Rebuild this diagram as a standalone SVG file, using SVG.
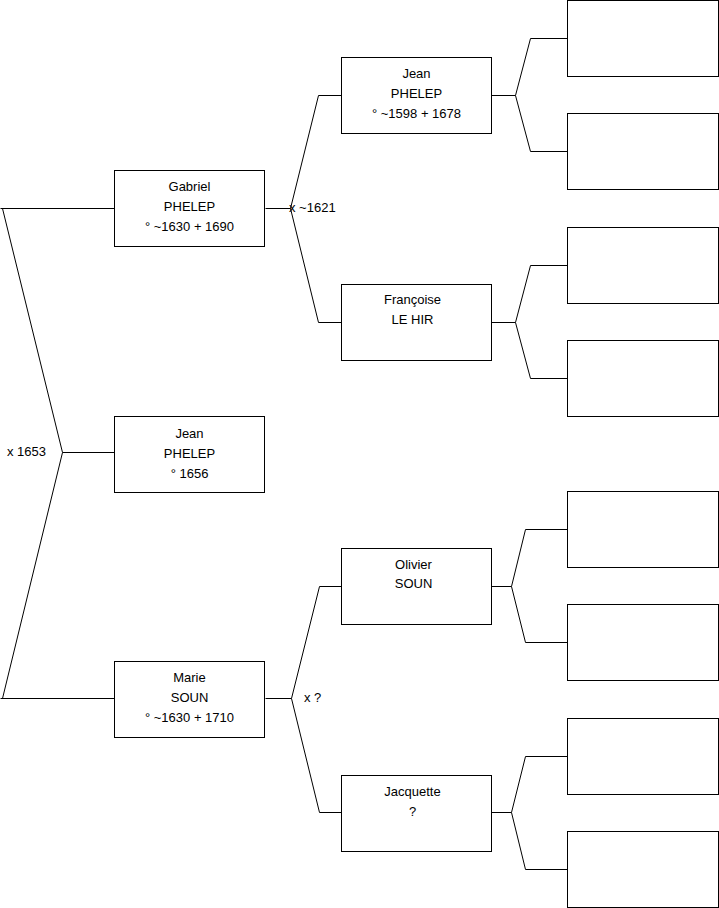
<svg xmlns="http://www.w3.org/2000/svg" width="719" height="908" viewBox="0 0 719 908">
<style>
.box{fill:#fff;stroke:#000;stroke-width:1}
.ln{fill:none;stroke:#000;stroke-width:1}
text{font-family:"Liberation Sans",Arial,sans-serif;font-size:13px;fill:#000}
.c{text-anchor:middle}
</style>
<rect width="719" height="908" fill="#fff"/>
<g id="connectors">
<path class="ln" d="M114.5,208.5 H0.5 M2.5,208.5 L62.5,452.5 L2.5,698.5 M0.5,698.5 H114.5 M62.5,452.5 H114.5"/>
<path class="ln" d="M265.5,208.5 H290.5 M341.5,95.5 H318.5 L290.5,208.5 L318.5,322.5 H341.5"/>
<path class="ln" d="M265.5,698.5 H291.5 M341.5,586.5 H319.5 L291.5,698.5 L319.5,812.5 H341.5"/>
<path class="ln" d="M491.5,95.5 H515.5 M567.5,38.5 H530.5 L515.5,95.5 L530.5,151.5 H567.5"/>
<path class="ln" d="M491.5,322.5 H515.5 M567.5,265.5 H530.5 L515.5,322.5 L530.5,378.5 H567.5"/>
<path class="ln" d="M491.5,586.5 H511.5 M567.5,529.5 H525.5 L511.5,586.5 L525.5,642.5 H567.5"/>
<path class="ln" d="M491.5,812.5 H511.5 M567.5,756.5 H525.5 L511.5,812.5 L525.5,869.5 H567.5"/>
<text x="7" y="456">x 1653</text>
<text x="289" y="212">x ~1621</text>
<text x="304" y="702">x ?</text>
</g>
<g id="gabriel"><rect class="box" x="114.5" y="170.5" width="150" height="76"/>
<text class="c" x="189.5" y="191">Gabriel</text><text class="c" x="189.5" y="211">PHELEP</text><text class="c" x="189.5" y="231">° ~1630 + 1690</text></g>
<g id="jean-child"><rect class="box" x="114.5" y="416.5" width="150" height="76"/>
<text class="c" x="189.5" y="438">Jean</text><text class="c" x="189.5" y="458">PHELEP</text><text class="c" x="189.5" y="478">° 1656</text></g>
<g id="marie"><rect class="box" x="114.5" y="661.5" width="150" height="76"/>
<text class="c" x="189.5" y="682">Marie</text><text class="c" x="189.5" y="702">SOUN</text><text class="c" x="189.5" y="722">° ~1630 + 1710</text></g>
<g id="jean-father"><rect class="box" x="341.5" y="57.5" width="150" height="76"/>
<text class="c" x="416.5" y="78">Jean</text><text class="c" x="416.5" y="98">PHELEP</text><text class="c" x="416.5" y="118">° ~1598 + 1678</text></g>
<g id="francoise"><rect class="box" x="341.5" y="284.5" width="150" height="76"/>
<text class="c" x="412.5" y="304">Françoise</text><text class="c" x="412.5" y="324">LE HIR</text></g>
<g id="olivier"><rect class="box" x="341.5" y="548.5" width="150" height="76"/>
<text class="c" x="413.5" y="569">Olivier</text><text class="c" x="413.5" y="588">SOUN</text></g>
<g id="jacquette"><rect class="box" x="341.5" y="775.5" width="150" height="76"/>
<text class="c" x="412.5" y="796">Jacquette</text><text class="c" x="412.5" y="816">?</text></g>
<g id="gg1"><rect class="box" x="567.5" y="0.5" width="151" height="76"/></g>
<g id="gg2"><rect class="box" x="567.5" y="113.5" width="151" height="76"/></g>
<g id="gg3"><rect class="box" x="567.5" y="227.5" width="151" height="76"/></g>
<g id="gg4"><rect class="box" x="567.5" y="340.5" width="151" height="76"/></g>
<g id="gg5"><rect class="box" x="567.5" y="491.5" width="151" height="76"/></g>
<g id="gg6"><rect class="box" x="567.5" y="604.5" width="151" height="76"/></g>
<g id="gg7"><rect class="box" x="567.5" y="718.5" width="151" height="76"/></g>
<g id="gg8"><rect class="box" x="567.5" y="831.5" width="151" height="76"/></g>
</svg>
